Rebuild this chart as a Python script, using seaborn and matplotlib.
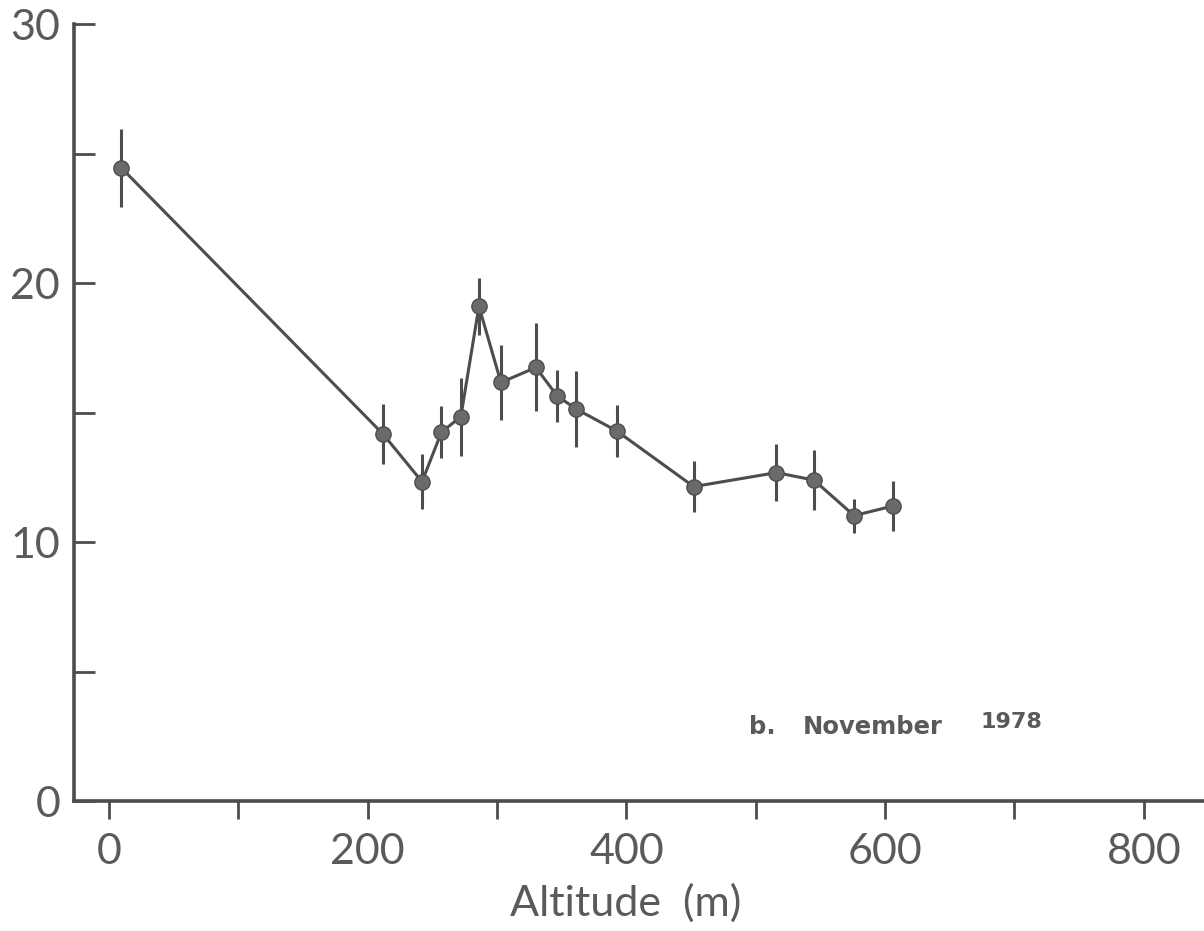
import numpy as np
import pandas as pd
import matplotlib
matplotlib.use("Agg")
import matplotlib.pyplot as plt
import seaborn as sns

# valores (altitude em m, valor e barra de erro)
altitude = [9.5, 212, 242, 257, 272, 286, 303, 330, 346.5, 361, 392.5, 452, 516, 545, 576, 606]
valor = [24.45, 14.16, 12.33, 14.24, 14.84, 19.1, 16.16, 16.74, 15.64, 15.14, 14.29, 12.14, 12.68, 12.39, 11.02, 11.39]
erro = [1.5, 1.15, 1.05, 1.0, 1.5, 1.1, 1.45, 1.7, 1.0, 1.48, 1.0, 0.97, 1.1, 1.17, 0.66, 0.98]

x_ticks = [0, 100, 200, 300, 400, 500, 600, 700, 800]
x_labels = ['0', '', '200', '', '400', '', '600', '', '800']
y_ticks = [0, 5, 10, 15, 20, 25, 30]
y_labels = ['0', '', '10', '', '20', '', '30']

COR = '#4d4d4d'
COR_TXT = '#5a5a5a'
sns.set_theme(style="white")
plt.rcParams['font.family'] = ['Lato', 'DejaVu Sans']

df = pd.DataFrame({'altitude': altitude, 'valor': valor, 'erro': erro})

fig = plt.figure(figsize=(12.04, 9.31), dpi=100)
ax = fig.add_axes([0.0615, 0.1396, 0.9385, 0.8346])

ax.errorbar(df['altitude'], df['valor'], yerr=df['erro'], fmt='none',
            ecolor=COR, elinewidth=2.2, capsize=0, zorder=2)
sns.lineplot(data=df, x='altitude', y='valor', ax=ax, color=COR, linewidth=2.2,
             marker='o', markersize=11, markerfacecolor='#6a6a6a',
             markeredgecolor=COR, markeredgewidth=1, zorder=3)

ax.set_xlim(-27, 846.5)
ax.set_ylim(0, 30)
ax.set_xticks(x_ticks)
ax.set_xticklabels(x_labels)
ax.set_yticks(y_ticks)
ax.set_yticklabels(y_labels)

for s in ['top', 'right']:
    ax.spines[s].set_visible(False)
for s in ['left', 'bottom']:
    ax.spines[s].set_color(COR)
    ax.spines[s].set_linewidth(2.6)

ax.tick_params(axis='x', bottom=True, direction='out', length=13, width=2, color=COR,
               labelsize=31, labelcolor=COR_TXT, pad=10)
ax.tick_params(axis='y', left=True, direction='in', length=15, width=2, color=COR,
               labelsize=31, labelcolor=COR_TXT, pad=10)

ax.set_xlabel('Altitude  (m)', fontsize=31, color=COR_TXT)
ax.set_ylabel('')
ax.xaxis.set_label_coords(0.488, -0.106)

ax.text(495, 2.85, 'b.', fontsize=17.5, fontweight='bold', color=COR_TXT,
        family='DejaVu Sans', va='center', ha='left')
ax.text(536, 2.85, 'November', fontsize=17.5, fontweight='bold', color=COR_TXT,
        family='DejaVu Sans', va='center', ha='left')
ax.text(673.5, 3.05, '1978', fontsize=16, fontweight='bold', color=COR_TXT,
        family='DejaVu Sans', va='center', ha='left')

plt.savefig('out.png', dpi=100)
